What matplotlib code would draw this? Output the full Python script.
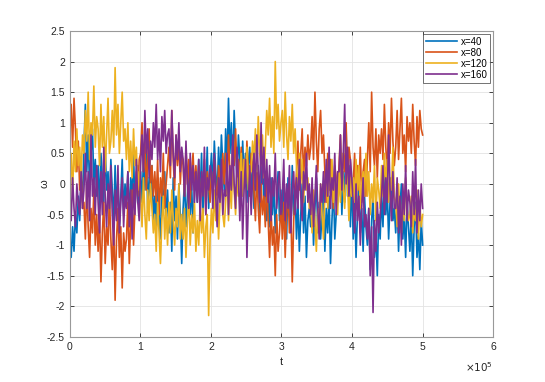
import numpy as np
import matplotlib.pyplot as plt

# omega(t) at four positions x (t from 0 to 5e5)
w_x40 = [-0.9, -1.2, -0.7, -1.1, -0.5, -0.8, -0.2, -0.6, 0.1, -0.3,
         0.6, 1.3, 0.2, 0.8, -0.1, 0.5, 0.9, 0.0, 0.4, -0.2,
         0.3, -0.4, 0.5, 0.1, -0.3, 0.6, -0.1, 0.2, -0.5, 0.4,
         -0.1, -0.6, 0.3, -0.4, 0.1, -0.7, -0.2, 0.4, -0.5, 0.0,
         -0.3, 0.2, -0.6, 0.1, -0.2, 0.5, -0.4, 0.0, 0.3, -0.5,
         0.2, -0.3, 0.4, -0.1, 0.6, -0.4, 0.1, -0.2, 0.3, -0.6,
         -0.2, -0.7, 0.1, -0.5, -0.9, 0.0, -0.4, 0.2, -0.6, -0.1,
         -0.8, -0.3, -1.1, 0.1, -0.6, -0.2, -0.9, 0.0, -0.5, -1.3,
         -0.4, 0.1, -0.7, -0.2, 0.3, -0.5, 0.0, -0.8, -0.1, 0.2,
         -0.3, 0.4, -0.2, 0.5, -0.5, 0.2, -0.1, 0.6, -0.4, 0.1,
         0.5, -0.1, 0.7, 0.2, -0.2, 0.6, 0.0, 0.8, 0.3, -0.1,
         0.9, 0.3, 1.4, 0.5, 1.0, 0.2, 1.2, 0.6, 0.1, 0.8,
         0.4, -0.2, 0.7, 0.1, 0.5, -0.3, 0.3, 0.6, -0.1, 0.2,
         -0.4, 0.2, -0.1, 0.3, -0.5, 0.0, 0.4, -0.3, 0.1, -0.6,
         -0.2, -0.7, 0.1, -0.5, 0.0, -0.8, -0.3, 0.2, -0.6, -0.1,
         -0.6, 0.0, -0.4, -0.9, 0.1, -0.2, -0.7, 0.3, -0.5, -0.1,
         -0.9, -0.3, -1.1, -0.5, 0.0, -0.8, -0.2, -1.2, -0.6, -0.4,
         -0.7, -0.1, -1.0, -0.4, 0.1, -0.8, -0.3, -0.9, -0.5, 0.0,
         -1.1, -0.4, -0.8, -0.2, -1.3, -0.6, 0.0, -0.9, -0.5, -0.3,
         -0.1, 0.4, -0.5, 0.2, -0.3, 0.9, -0.2, 0.3, -0.7, 0.1,
         -0.9, -0.3, -1.2, -0.5, 0.0, -0.8, -0.4, -1.1, -0.2, -0.7,
         -1.0, -0.4, -1.4, -0.6, -0.2, -1.2, -0.8, -1.5, -0.5, -0.9,
         -0.2, -0.7, 0.2, -0.5, -0.1, -0.9, -0.3, 0.1, -0.6, -0.4,
         -0.8, -0.2, -1.1, -0.4, 0.0, -0.9, -0.5, -1.2, -0.3, -0.7,
         -1.1, -0.5, -1.5, -0.7, -0.3, -1.2, -0.8, -1.4, -0.6, -1.0]
w_x80 = [0.8, 1.3, 0.6, 1.4, 0.9, 0.2, 0.7, -0.1, 0.3, -0.4,
         -0.3, -0.9, 0.0, -0.7, -1.2, -0.4, -0.8, -0.1, -1.0, -0.5,
         -1.1, -0.5, -1.6, -0.8, -0.3, -1.3, -0.7, -1.0, -0.2, -0.9,
         -1.4, -0.6, -1.9, -0.9, -0.4, -1.2, -0.7, -1.7, -0.8, -1.1,
         -0.9, -0.3, -1.3, -0.6, -0.1, -1.0, -0.4, 0.2, -0.2, 0.4,
         0.5, 1.0, 0.2, 0.7, -0.1, 0.4, 0.9, 0.0, 0.3, -0.2,
         0.2, -0.3, 0.4, -0.5, 0.1, -0.2, 0.5, -0.4, 0.0, 0.3,
         0.6, 0.1, 1.2, 0.4, -0.1, 0.8, 0.3, 0.7, 0.0, 0.5,
         0.3, -0.2, 0.6, 0.0, 0.4, -0.3, 0.2, 0.5, -0.1, 0.3,
         -0.2, 0.3, -0.4, 0.1, -0.1, 0.4, -0.5, 0.2, 0.0, -0.3,
         0.2, -0.2, 0.4, 0.0, -0.3, 0.3, 0.1, -0.1, 0.5, 0.0,
         0.5, 0.0, 0.8, 0.2, -0.1, 0.6, 0.3, 0.9, 0.1, 0.4,
         0.1, 0.6, -0.1, 0.4, 0.0, 0.7, 0.2, -0.2, 0.5, 0.3,
         -0.1, -0.6, 0.2, -0.4, -0.8, 0.0, -0.5, -0.2, -0.7, 0.1,
         -0.6, -1.2, -0.4, -1.0, -0.7, -1.5, -0.5, -1.1, -0.8, -0.3,
         -0.9, -0.3, -1.2, -0.5, -0.1, -0.8, -0.4, -1.6, -0.6, -0.2,
         0.2, 0.7, -0.1, 0.5, 0.9, 0.1, 0.6, 0.3, 0.8, 0.4,
         0.6, 1.1, 0.4, 1.5, 0.7, 0.2, 0.9, 1.2, 0.5, 0.8,
         0.2, -0.3, 0.5, -0.1, 0.4, 0.0, -0.4, 0.3, 0.1, -0.2,
         0.3, 0.8, -0.1, 0.5, 0.2, 1.0, 0.0, 0.6, 0.4, -0.2,
         0.0, 0.5, -0.4, 0.3, -0.1, 0.6, -0.3, 0.2, 0.4, -0.2,
         0.4, 1.0, 0.2, 1.5, 0.6, 0.3, 0.9, 0.1, 0.8, 0.5,
         0.9, 0.4, 1.3, 0.6, 0.2, 1.0, 0.5, 1.4, 0.7, 0.3,
         0.6, 1.2, 0.4, 0.9, 1.4, 0.5, 0.8, 0.2, 1.1, 0.7,
         1.0, 0.5, 1.3, 0.7, 0.3, 1.1, 0.6, 1.2, 0.9, 0.8]
w_x120 = [0.0, 0.5, -0.2, 0.7, 0.2, 0.9, 0.3, 0.6, 0.1, 0.8,
          0.5, 1.2, 0.7, 1.5, 0.4, 1.0, 0.8, 1.6, 0.6, 1.1,
          0.9, 0.3, 1.3, 0.6, 1.1, 0.2, 0.8, 1.4, 0.5, 0.7,
          1.2, 0.6, 1.9, 0.8, 1.3, 0.5, 1.0, 1.5, 0.7, 0.9,
          0.4, 1.0, 0.2, 0.7, 0.1, 0.9, 0.3, 0.6, -0.1, 0.2,
          -0.2, -0.7, 0.1, -0.5, -0.9, -0.1, -0.6, 0.0, -0.4, -0.8,
          -0.5, -1.1, -0.3, -0.8, -1.3, -0.6, -0.2, -0.9, -0.4, -1.0,
          -0.3, -0.8, -0.1, -0.6, -1.0, -0.4, -0.7, 0.0, -0.9, -0.5,
          -0.9, -0.4, -1.2, -0.6, -0.2, -1.0, -0.5, -0.8, -0.3, -1.1,
          -0.6, -1.0, -0.3, -0.8, -0.4, -1.2, -0.7, -0.5, -2.15, -0.9,
          -0.4, -0.8, -0.1, -0.6, -0.2, -0.9, -0.3, 0.1, -0.5, -0.7,
          -0.3, 0.2, -0.6, 0.0, -0.4, 0.3, -0.1, -0.5, 0.1, -0.2,
          0.1, 0.5, -0.2, 0.4, 0.0, 0.6, -0.1, 0.3, 0.2, 0.7,
          0.4, 0.9, 0.2, 1.1, 0.5, 0.3, 0.8, 0.1, 0.6, 1.2,
          0.8, 1.4, 0.6, 1.1, 0.5, 2.0, 0.9, 1.3, 0.7, 1.0,
          1.2, 0.6, 1.5, 0.8, 0.4, 1.1, 0.7, 1.3, 0.5, 0.9,
          0.3, -0.2, 0.5, 0.0, 0.4, -0.3, 0.2, -0.1, 0.1, -0.4,
          -0.3, -0.8, -0.1, -0.6, -1.1, -0.4, -0.7, 0.0, -0.5, -0.9,
          -0.2, 0.3, -0.4, 0.1, -0.1, 0.4, -0.3, 0.2, 0.0, -0.5,
          0.2, -0.3, 0.5, -0.1, -0.4, 0.3, 0.0, -0.6, 0.1, -0.2,
          0.1, -0.3, 0.4, -0.1, 0.3, -0.4, 0.0, 0.2, -0.2, 0.5,
          -0.2, 0.2, -0.5, 0.0, -0.3, 0.3, -0.6, 0.1, -0.1, -0.4,
          0.3, -0.2, 0.5, 0.0, 0.4, -0.3, 0.1, -0.1, 0.6, -0.2,
          -0.3, -0.7, 0.0, -0.5, -0.8, -0.2, -0.6, 0.1, -0.4, -0.6,
          -0.5, -0.2, -0.8, -0.4, -0.6, -0.1, -0.9, -0.3, -0.7, -0.5]
w_x160 = [-0.2, -0.6, 0.1, -0.4, -0.7, 0.0, -0.3, -0.5, 0.2, -0.4,
          -0.1, 0.5, -0.4, 0.2, -0.6, 0.8, -0.2, 0.1, -0.5, 0.3,
          -0.3, -0.8, 0.2, -0.5, 0.6, -0.2, -0.7, 0.0, -0.4, 0.3,
          -0.5, -1.0, -0.1, -0.6, 0.3, -0.8, -0.3, 0.1, -0.7, -0.2,
          -0.4, 0.2, -0.7, -0.1, -0.9, 0.0, -0.5, 0.4, -0.3, -0.6,
          0.3, 0.8, 0.2, 1.2, 0.5, 0.9, 0.1, 0.7, 0.4, 1.0,
          0.6, 1.3, 0.4, 0.9, 0.2, 1.1, 0.7, 1.2, 0.5, 0.8,
          0.9, 0.3, 1.2, 0.5, 0.1, 0.8, 0.4, 1.0, 0.2, 0.6,
          0.4, -0.2, 0.7, 0.0, -0.4, 0.5, -0.1, 0.3, -0.3, 0.2,
          -0.3, 0.4, -0.6, 0.2, -0.2, 0.6, -0.5, 0.1, -0.1, 0.3,
          0.2, -0.4, 0.5, -0.2, -0.7, 0.1, -0.3, 0.4, -0.5, -0.1,
          -0.2, 0.5, -0.5, 0.3, -0.1, 0.8, 0.0, -0.4, 0.6, 0.1,
          -0.6, 0.2, -0.9, -0.1, 0.4, -1.2, -0.3, 0.3, -0.5, 0.1,
          0.5, -0.1, 0.8, 0.2, -0.3, 1.0, 0.0, 0.6, -0.2, 0.4,
          -0.3, 0.3, -0.6, 0.1, -0.2, 0.5, -0.4, 0.0, 0.2, -0.5,
          -0.2, 0.4, -0.6, 0.0, -0.4, 0.3, -0.8, -0.1, 0.2, -0.5,
          0.1, -0.4, 0.4, -0.2, -0.6, 0.2, -0.1, 0.5, -0.3, 0.0,
          -0.5, 0.1, -0.7, -0.2, 0.3, -0.4, -0.9, 0.0, -0.3, 0.2,
          -0.3, 0.4, -0.2, 0.6, -0.4, 0.1, -0.1, 0.5, -0.5, 0.2,
          0.2, 0.8, -0.1, 0.5, 1.3, 0.0, 0.6, -0.2, 0.4, 0.1,
          -0.3, -0.8, 0.0, -0.6, -0.2, -1.0, -0.4, 0.1, -0.7, -0.5,
          -0.9, -0.4, -1.5, -0.7, -2.1, -0.6, -1.1, -0.3, -0.8, -0.5,
          -0.2, 0.3, -0.5, 0.1, -0.3, 0.8, -0.1, -0.6, 0.2, -0.4,
          -0.4, 0.1, -0.8, -0.2, -1.0, 0.0, -0.5, 0.3, -0.6, -0.1,
          -0.3, -0.7, 0.2, -0.5, 0.4, -0.8, -0.1, -0.6, 0.0, -0.4]

labels = ['x=40', 'x=80', 'x=120', 'x=160']
colors = ['#0072BD', '#D95319', '#EDB120', '#7E2F8E']
series = [w_x40, w_x80, w_x120, w_x160]
t = np.linspace(0, 5e5, len(w_x40))

plt.rcParams['font.family'] = ['Liberation Sans', 'DejaVu Sans']
fig = plt.figure(figsize=(5.45, 3.82), dpi=100)
ax = fig.add_axes([0.128, 0.118, 0.777, 0.801])

for y, c, lab in zip(series, colors, labels):
    ax.plot(t, y, color=c, linewidth=1.2, label=lab)

ax.set_xlim(0, 6e5)
ax.set_ylim(-2.5, 2.5)
ax.set_xticks(np.arange(0, 7e5, 1e5))
ax.set_xticklabels([str(i) for i in range(7)])
ax.set_yticks(np.arange(-2.5, 2.6, 0.5))
ax.set_yticklabels(['-2.5', '-2', '-1.5', '-1', '-0.5', '0', '0.5', '1', '1.5', '2', '2.5'])
ax.tick_params(direction='in', length=3, width=0.6, labelsize=7.5, colors='#262626',
               top=True, right=True)
ax.grid(True, color='#e3e3e3', linewidth=0.6)
ax.set_axisbelow(True)
for s in ax.spines.values():
    s.set_color('#999999')
    s.set_linewidth(0.8)

ax.set_xlabel('t', fontsize=8, color='#262626', labelpad=4)
ax.set_ylabel('ω', fontsize=8, color='#262626', labelpad=-2)
ax.text(1.0, -0.075, r'$\times10^5$', transform=ax.transAxes, ha='right', va='top',
        fontsize=7.5, color='#262626')

leg = ax.legend(loc='upper right', fontsize=7, frameon=True, fancybox=False,
                handlelength=3.2, borderaxespad=0.3, labelspacing=0.1,
                handletextpad=0.4, borderpad=0.3)
leg.get_frame().set_edgecolor('#333333')
leg.get_frame().set_linewidth(0.6)

fig.savefig('out.png', dpi=100)
